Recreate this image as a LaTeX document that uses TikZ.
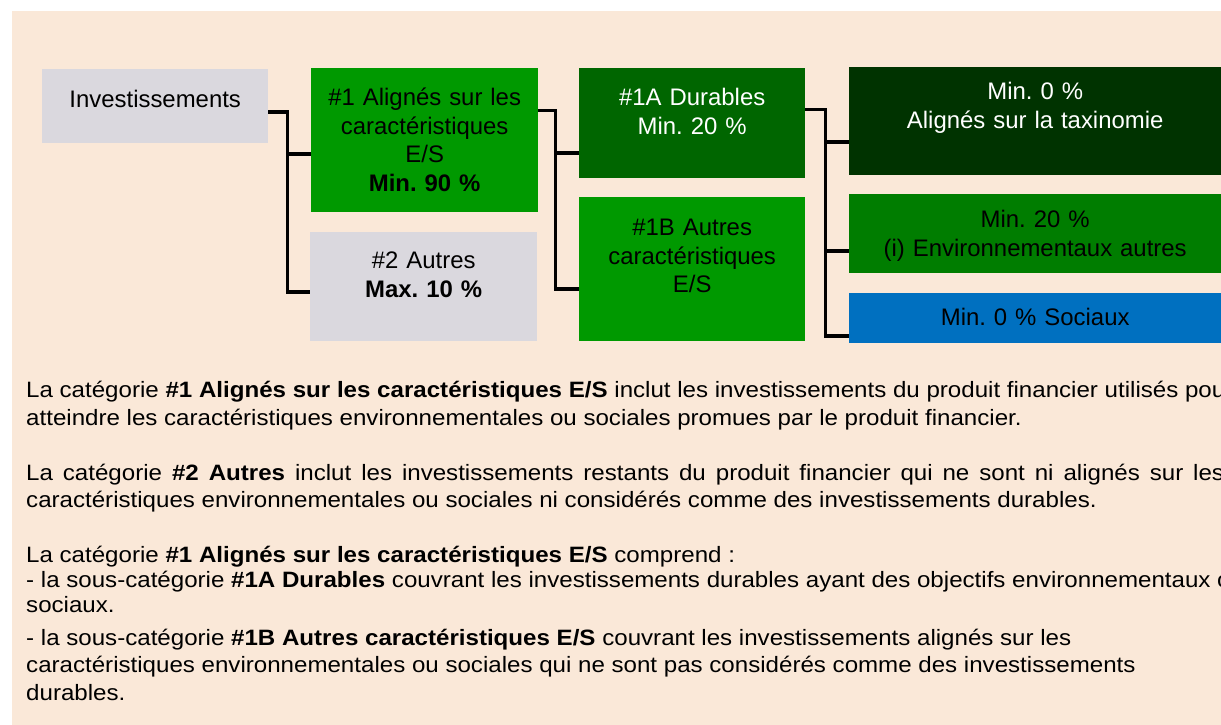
\documentclass[tikz,border=0pt]{standalone}
\usepackage{fontspec}
\setmainfont{Liberation Sans}
\newfontfamily\notefont[FakeStretch=1.085]{Liberation Sans}
\usetikzlibrary{positioning}
\frenchspacing

\definecolor{bgpeach}{HTML}{FAE8D8}
\definecolor{boxgrey}{HTML}{DAD8DE}
\definecolor{esgreen}{HTML}{009900}
\definecolor{durgreen}{HTML}{006600}
\definecolor{taxgreen}{HTML}{003300}
\definecolor{envgreen}{HTML}{007D00}
\definecolor{socblue}{HTML}{0070C0}

\tikzset{
  cat/.style={anchor=north west, inner sep=0pt, align=center,
    font=\fontsize{24}{29}\selectfont},
  link/.style={line width=3.5pt, black},
  note/.style={anchor=base west, inner sep=0pt,
    font=\notefont\fontsize{22.3}{27}\selectfont},
}

\begin{document}
\begin{tikzpicture}[x=1bp, y=-1bp]
    \useasboundingbox (0,0) rectangle (1221,725);
    \clip (0,0) rectangle (1221,725);
    \fill[white] (0,0) rectangle (1221,725);
    \fill[bgpeach] (12,11) rectangle (1221,725);

    % categories
    \node[cat, fill=boxgrey, text width=226bp, text height=38bp, text depth=36bp]
        (inv) at (42,69) {Investissements};
    \node[cat, fill=esgreen, text width=227bp, text height=37bp, text depth=107bp]
        (one) at (311,68) {\#1 Alignés sur les\\caractéristiques\\E/S\\\textbf{Min. 90 \%}};
    \node[cat, fill=boxgrey, text width=227bp, text height=36bp, text depth=73bp]
        (two) at (310,232) {\#2 Autres\\\textbf{Max. 10 \%}};
    \node[cat, fill=durgreen, text=white, text width=226bp, text height=37bp, text depth=73bp]
        (dur) at (579,68) {\#1A Durables\\Min. 20 \%};
    \node[cat, fill=esgreen, text width=226bp, text height=38bp, text depth=106bp]
        (oth) at (579,197) {\#1B Autres\\caractéristiques\\E/S};
    \node[cat, fill=taxgreen, text=white, text width=372bp, text height=32bp, text depth=76bp]
        (taxo) at (849,67) {Min. 0 \%\\Alignés sur la taxinomie};
    \node[cat, fill=envgreen, text width=372bp, text height=33bp, text depth=46bp]
        (env) at (849,194) {Min. 20 \%\\(i) Environnementaux autres};
    \node[cat, fill=socblue, text width=372bp, text height=32bp, text depth=18bp]
        (soc) at (849,293) {Min. 0 \% Sociaux};

    % elbow links
    \draw[link] ([yshift=-6pt]inv.east) -- ++(19,0) |- ([yshift=-14pt]one.west);
    \draw[link] ([yshift=-6pt]inv.east) -- ++(19,0) |- ([yshift=-5.5pt]two.west);
    \draw[link] ([yshift=30pt]one.east) -- ++(17,0) |- ([yshift=-30pt]dur.west);
    \draw[link] ([yshift=30pt]one.east) -- ++(17,0) |- ([yshift=-20pt]oth.west);
    \draw[link] ([yshift=14pt]dur.east) -- ++(20,0) |- ([yshift=-21pt]taxo.west);
    \draw[link] ([yshift=14pt]dur.east) -- ++(20,0) |- ([yshift=-17.5pt]env.west);
    \draw[link] ([yshift=14pt]dur.east) -- ++(20,0) |- ([yshift=-18pt]soc.west);

    % notes below
    \node[note] (n1a) at (26,397) {La catégorie \textbf{\#1 Alignés sur les caractéristiques E/S} inclut les investissements du produit financier utilisés pour};
    \node[note] (n1b) at (26,425) {atteindre les caractéristiques environnementales ou sociales promues par le produit financier.};

    \node[note] (n2a) at (26,480) {\makebox[1198bp][s]{La catégorie \textbf{\#2 Autres} inclut les investissements restants du produit financier qui ne sont ni alignés sur les}};
    \node[note] (n2b) at (26,507) {caractéristiques environnementales ou sociales ni considérés comme des investissements durables.};

    \node[note] (n3a) at (26,562) {La catégorie \textbf{\#1 Alignés sur les caractéristiques E/S} comprend :};
    \node[note] (n3b) at (26,587) {- la sous-catégorie \textbf{\#1A Durables} couvrant les investissements durables ayant des objectifs environnementaux ou};
    \node[note] (n3c) at (26,612) {sociaux.};
    \node[note] (n3d) at (26,645) {- la sous-catégorie \textbf{\#1B Autres caractéristiques E/S} couvrant les investissements alignés sur les};
    \node[note] (n3e) at (26,672) {caractéristiques environnementales ou sociales qui ne sont pas considérés comme des investissements};
    \node[note] (n3f) at (26,700) {durables.};
\end{tikzpicture}
\end{document}
